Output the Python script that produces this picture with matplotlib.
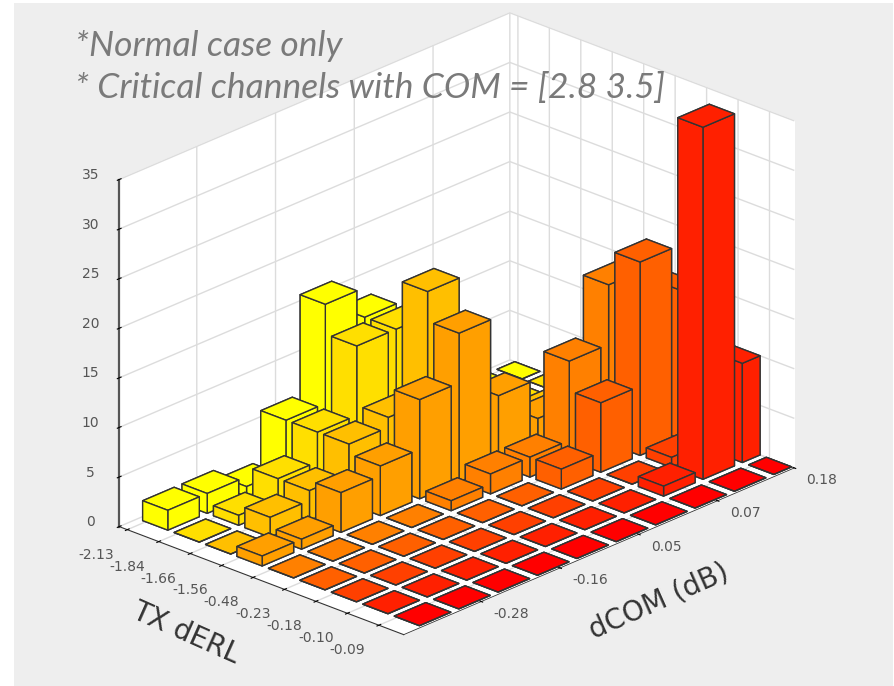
import matplotlib
matplotlib.use('Agg')
import matplotlib.pyplot as plt
from matplotlib.patches import Rectangle
import numpy as np

# bar heights, rows = TX dERL, columns = dCOM index
tx_labels = ['-2.13', '-1.84', '-1.66', '-1.56', '-0.48', '-0.23', '-0.18', '-0.10', '-0.09']
dcom_labels = ['-0.28', '-0.16', '0.05', '0.07', '0.18']
row0 = [2, 2, 1, 6, 16, 13, 0, 0, 0, 0]
row1 = [0, 1, 3, 6, 13, 13, 0, 0, 0, 0]
row2 = [0, 2, 3, 6, 7, 18, 1, 1, 1, 0]
row3 = [1, 1, 4, 5, 10, 15, 7, 3, 1, 0]
row4 = [0, 0, 0, 0, 1, 2, 2, 10, 16, 0]
row5 = [0, 0, 0, 0, 0, 0, 2, 7, 19.5, 15]
row6 = [0, 0, 0, 0, 0, 0, 0, 0, 1, 0]
row7 = [0, 0, 0, 0, 0, 0, 0, 1, 35.5, 10]
row8 = [0, 0, 0, 0, 0, 0, 0, 0, 0, 0]
heights = [row0, row1, row2, row3, row4, row5, row6, row7, row8]

x_min, x_max = -0.557, 8.49
y_min, y_max = -0.87, 9.05

fig = plt.figure(figsize=(8.95, 6.86), dpi=100, facecolor='white')
# grey panel of the slide, with a white strip at the left and top
fig.patches.append(Rectangle((14, 0), 879, 683, transform=None, facecolor='#eeeeee', edgecolor='none',
                             figure=fig, zorder=-1))

ax = fig.add_axes([0.0, 10 / 686, 1.0, 1.0], projection='3d', proj_type='ortho', computed_zorder=False)
ax.patch.set_visible(False)
ax.view_init(elev=23.74, azim=-46.67)
ax.set_box_aspect((393, 572, 381), zoom=1.115)

# draw from the back corner to the front corner so the tall bars overlap properly
order = 10
for i in range(9):
    g = 1 - i / 8
    for j in range(9, -1, -1):
        # the last column is cut off by the back wall
        depth = min(0.8, y_max - (j - 0.4))
        bar = ax.bar3d(i - 0.4, j - 0.4, 0, 0.8, depth, heights[i][j], color=(1, g, 0), edgecolor='#333333',
                       linewidth=1.0, shade=False, zorder=order)
        bar.set_clip_on(False)
        order += 1

ax.set_xlim(x_min, x_max, view_margin=0)
ax.set_ylim(y_min, y_max, view_margin=0)
ax.set_zlim(0, 35, view_margin=0)

ax.set_xticks(np.arange(9) - 0.3)
ax.set_xticklabels(tx_labels, ha='right')
ax.set_yticks([1.1, 3.1, 5.1, 7.1, 9.05])
ax.set_yticklabels(dcom_labels, ha='left', va='bottom')
ax.set_zticks(range(0, 40, 5))
ax.set_zticklabels([str(v) for v in range(0, 40, 5)], va='bottom')
ax.zaxis.set_ticks_position('lower')
ax.tick_params(labelsize=10, labelcolor='#555555', pad=1)
ax.tick_params(axis='y', pad=3)
ax.tick_params(axis='z', pad=3)

for axis in (ax.xaxis, ax.yaxis, ax.zaxis):
    axis.set_pane_color((1, 1, 1, 1))
    axis.pane.set_edgecolor('white')
    axis._axinfo['grid']['color'] = '#dcdcdc'
    axis._axinfo['grid']['linewidth'] = 1.0
    axis._axinfo['tick']['outward_factor'] = 0.06
    axis._axinfo['tick']['inward_factor'] = 0.06
    axis.line.set_color('#333333')
ax.yaxis.line.set_linewidth(0.6)
ax.zaxis.line.set_color('#555555')
ax.zaxis.line.set_linewidth(1.6)

fig.text(186, 686 - 633, 'TX dERL', transform=None, fontsize=20, color='#333333', rotation=-24,
         ha='center', va='center', rotation_mode='anchor')
fig.text(659, 686 - 601, 'dCOM (dB)', transform=None, fontsize=20, color='#333333', rotation=24,
         ha='center', va='center', rotation_mode='anchor')

fig.text(75, 686 - 56, '*Normal case only', transform=None, family='Lato', style='italic', fontsize=25.5, color='#7a7a7a')
fig.text(75, 686 - 98, '* Critical channels with COM = [2.8 3.5]', transform=None, family='Lato', style='italic', fontsize=25.5, color='#7a7a7a')

fig.savefig('out.png', dpi=100, facecolor=fig.get_facecolor())
